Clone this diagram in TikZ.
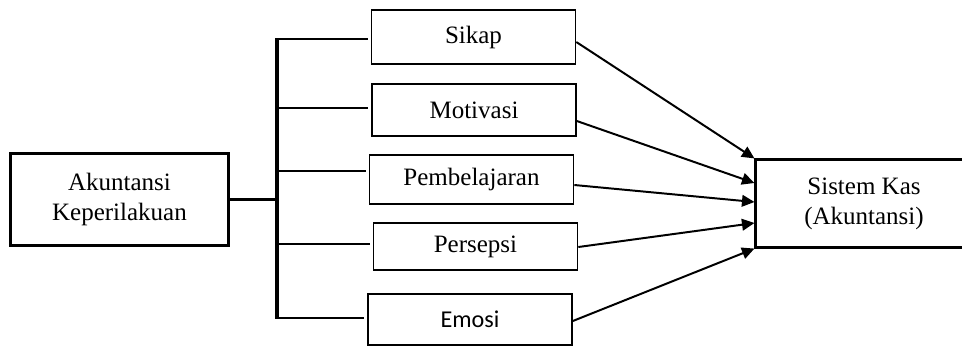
\documentclass[tikz,border=0pt]{standalone}
\usepackage{fontspec}
\setmainfont{Liberation Serif}
\newfontfamily\calibrifont{Carlito}
\usetikzlibrary{arrows.meta,calc}

\begin{document}
\begin{tikzpicture}[x=0.48pt,y=-0.48pt,
box/.style={draw,line width=0.7pt,minimum width=98pt,align=center,inner sep=0pt},
bigbox/.style={draw,line width=1.45pt,align=center,inner sep=0pt},
spine/.style={line width=1.9pt},
branch/.style={line width=0.95pt,shorten >=1.5pt},
panah/.style={line width=0.95pt,-{Triangle[length=6pt,width=5.6pt]}}]
\tikzstyle{every node}=[font=\fontsize{12}{14.4}\selectfont]
\useasboundingbox (0,0) rectangle (962,347);
\clip (0,0) rectangle (962,347);

\node (Akun) [bigbox,minimum width=105pt,minimum height=43.7pt] at (119.5,199.5) {Akuntansi\\Keperilakuan};
\node (Kas) [bigbox,minimum width=103.7pt,minimum height=41.8pt] at (864,203.5) {Sistem Kas\\(Akuntansi)};

\node (Sikap) [box,minimum height=25.9pt] at (473.5,37) {Sikap};
\node (Motivasi) [box,minimum height=25pt] at (474,110) {Motivasi};
\node (Pembelajaran) [box,minimum height=23.5pt] at (471.5,179.5) {Pembelajaran};
\node (Persepsi) [box,minimum height=22.6pt] at (475.5,246.5) {Persepsi};
\node (Emosi) [box,minimum height=24.5pt,font=\calibrifont\fontsize{11.6}{14}\selectfont] at (470,319.5) {Emosi};

\coordinate (s1) at (277,39);
\coordinate (s2) at (277,108);
\coordinate (s3) at (277,171);
\coordinate (s4) at (277,244);
\coordinate (s5) at (277,318);

\draw[spine] ($(s1)+(0,-1)$) -- ($(s5)+(0,1)$);
\draw[spine] (Akun.east) -- (Akun.east -| s1);

\draw[branch] (s1) -- (s1 -| Sikap.west);
\draw[branch] (s2) -- (s2 -| Motivasi.west);
\draw[branch] (s3) -- (s3 -| Pembelajaran.west);
\draw[branch] (s4) -- (s4 -| Persepsi.west);
\draw[branch] (s5) -- (s5 -| Emosi.west);

\draw[panah] ($(Sikap.east)+(0,5)$) -- (Kas.north west);
\draw[panah] ($(Motivasi.east)+(0,11)$) -- ($(Kas.west)+(0,-20.5)$);
\draw[panah] ($(Pembelajaran.east)+(0,5.5)$) -- ($(Kas.west)+(0,-1.5)$);
\draw[panah] ($(Persepsi.east)+(0,0.5)$) -- ($(Kas.west)+(0,19.5)$);
\draw[panah] ($(Emosi.east)+(0,1.5)$) -- (Kas.south west);

\end{tikzpicture}
\end{document}
